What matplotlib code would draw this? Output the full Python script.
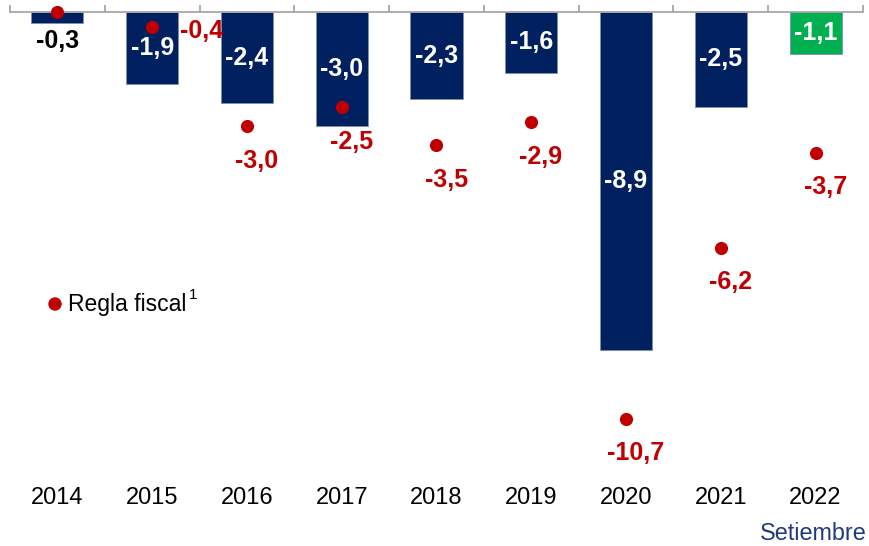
import numpy as np
import matplotlib
matplotlib.use("Agg")
import matplotlib.pyplot as plt
from matplotlib.patches import Ellipse
from matplotlib.transforms import blended_transform_factory

YEARS = ["2014", "2015", "2016", "2017", "2018", "2019", "2020", "2021", "2022"]
DEFICIT = [-0.3, -1.9, -2.4, -3.0, -2.3, -1.6, -8.9, -2.5, -1.1]
DEFICIT_LABELS = ["-0,3", "-1,9", "-2,4", "-3,0", "-2,3", "-1,6", "-8,9", "-2,5", "-1,1"]
RULE = [0.0, -0.4, -3.0, -2.5, -3.5, -2.9, -10.7, -6.2, -3.7]
RULE_LABELS = ["", "-0,4", "-3,0", "-2,5", "-3,5", "-2,9", "-10,7", "-6,2", "-3,7"]

NAVY = "#002060"
GREEN = "#00B050"
RED = "#C00000"

plt.rcParams["font.family"] = ["Liberation Sans", "DejaVu Sans"]

W, H = 870, 546
fig = plt.figure(figsize=(W / 100, H / 100), dpi=100)
# zero line sits at y=12 px, 38 px per unit
ppu = 38.0
y0 = 12
ax = fig.add_axes([10 / W, 0, 853 / W, 1])
ax.set_ylim(-(H - y0) / ppu, y0 / ppu)
ax.set_xlim(-0.5, len(YEARS) - 0.5)

x = np.arange(len(YEARS))
colors = [NAVY] * (len(YEARS) - 1) + [GREEN]
ax.bar(x, DEFICIT, width=0.55, color=colors, edgecolor="#7f8fb0", lw=0.6, zorder=2)

LBL = 18
for i, (v, lab) in enumerate(zip(DEFICIT, DEFICIT_LABELS)):
    if abs(v) < 0.5:
        ax.text(i, v - 0.15, lab, ha="center", va="top", fontsize=LBL,
                fontweight="bold", color="black")
    else:
        ax.text(i, v / 2, lab, ha="center", va="center", fontsize=LBL,
                fontweight="bold", color="white", zorder=3)

ax.scatter(x, RULE, s=90, color=RED, zorder=4, linewidths=0)
for i, (v, lab) in enumerate(zip(RULE, RULE_LABELS)):
    if not lab:
        continue
    if i == 1:
        ax.annotate(lab, (i, v), xytext=(20, -3), textcoords="offset points",
                    ha="left", va="center", fontsize=LBL, fontweight="bold", color=RED)
    else:
        ax.annotate(lab, (i, v), xytext=(7, -25), textcoords="offset points",
                    ha="center", va="center", fontsize=LBL, fontweight="bold", color=RED)

# axis line at zero with upward ticks at category boundaries
for s in ["top", "left", "right"]:
    ax.spines[s].set_visible(False)
ax.spines["bottom"].set_position(("data", 0))
ax.spines["bottom"].set_color("#a6a6a6")
ax.spines["bottom"].set_linewidth(1.3)
ax.set_yticks([])
ax.set_xticks(np.arange(len(YEARS) + 1) - 0.5)
ax.set_xticklabels([])
ax.tick_params(axis="x", direction="in", length=5, width=1.3, color="#a6a6a6")

trans = blended_transform_factory(ax.transData, fig.transFigure)
for i, yr in enumerate(YEARS):
    ax.text(i, 1 - 498 / H, yr, transform=trans, ha="center", va="center",
            fontsize=17, color="black")

# legend
fig.add_artist(Ellipse((55 / W, 1 - 304 / H), 12 / W, 12 / H, color=RED,
                       transform=fig.transFigure))
fig.text(68 / W, 1 - 304 / H, "Regla fiscal", fontsize=16.5, color="black",
         ha="left", va="center")
fig.text(189 / W, 1 - 295 / H, "1", fontsize=11, color="black",
         ha="left", va="center")

fig.text(760 / W, 1 - 533 / H, "Setiembre", fontsize=16.8, color="#1F3A7A",
         ha="left", va="center")

fig.savefig("out.png", dpi=100)
